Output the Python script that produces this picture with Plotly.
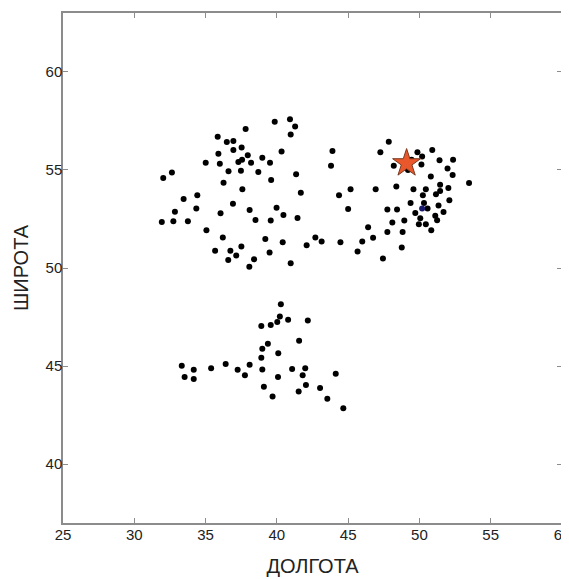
import plotly.graph_objects as go

# Settlement coordinates (longitude, latitude)
lon = [
    40.92, 39.85, 41.28, 37.81, 40.97, 35.85, 36.49, 36.95, 37.53, 36.95,
    40.33, 35.90, 37.96, 38.98, 37.56, 37.30, 38.19, 39.52, 35.01, 36.00,
    32.64, 32.03, 36.61, 37.48, 38.70, 41.35, 39.60, 36.26, 37.58, 41.68,
    34.42, 33.46, 36.92, 34.35, 39.98, 38.09, 32.85, 36.05, 40.46, 41.45,
    38.50, 39.57, 32.74, 33.76, 31.93, 35.06, 36.21, 39.19, 42.70, 43.14,
    40.41, 42.09, 37.51, 35.67, 36.74, 39.49, 37.15, 38.40, 36.59, 40.97,
    38.07,
    47.85, 43.90, 47.26, 50.90, 49.86, 50.19, 49.45, 52.36, 51.41, 43.80,
    48.20, 50.14, 51.97, 50.80, 52.33, 53.48, 51.45, 48.38, 45.17, 46.93,
    49.58, 50.45, 52.03, 51.45, 44.36, 50.24, 51.16, 52.10, 49.38, 50.32,
    51.34, 45.00, 47.75, 48.43, 50.57, 49.71, 51.69, 51.11, 50.06, 51.24,
    48.94, 48.10, 49.96, 50.45, 46.40, 50.83, 47.75, 48.82, 46.75, 45.99,
    44.46, 45.66, 48.76, 47.44, 49.20,
    40.28, 40.21, 40.79, 42.17, 40.03, 39.57, 38.91, 41.56, 39.37, 38.98,
    40.10, 38.91, 33.33, 36.41, 38.09, 35.39, 37.25, 38.98, 41.07, 41.99,
    34.17, 33.53, 34.17, 37.76, 40.08, 41.81, 44.13, 42.04, 39.09, 43.03,
    41.53, 39.70, 43.54, 44.66,
]
lat = [
    57.58, 57.45, 57.21, 57.08, 56.80, 56.69, 56.42, 56.48, 56.14, 56.01,
    55.94, 55.82, 55.75, 55.62, 55.52, 55.41, 55.37, 55.37, 55.37, 55.32,
    54.87, 54.59, 54.93, 54.96, 54.89, 54.78, 54.49, 54.34, 54.01, 53.84,
    53.71, 53.52, 53.28, 53.03, 53.07, 52.96, 52.87, 52.79, 52.70, 52.55,
    52.45, 52.42, 52.38, 52.38, 52.34, 51.93, 51.55, 51.48, 51.55, 51.35,
    51.31, 51.16, 51.10, 50.88, 50.88, 50.79, 50.64, 50.45, 50.41, 50.24,
    50.06,
    56.44, 55.97, 55.90, 56.01, 55.90, 55.69, 55.52, 55.52, 55.49, 55.21,
    55.21, 55.28, 55.07, 54.66, 54.74, 54.33, 54.25, 54.16, 54.01, 54.01,
    54.01, 54.01, 54.08, 53.93, 53.71, 53.71, 53.76, 53.46, 53.31, 53.31,
    53.18, 53.01, 52.98, 52.98, 53.03, 52.81, 52.85, 52.66, 52.53, 52.43,
    52.42, 52.32, 52.23, 52.23, 52.08, 51.93, 51.84, 51.84, 51.54, 51.35,
    51.31, 50.84, 51.05, 50.49, 55.00,
    48.15, 47.53, 47.36, 47.32, 47.25, 47.10, 47.04, 46.29, 46.14, 45.88,
    45.66, 45.43, 45.02, 45.11, 45.07, 44.89, 44.81, 44.83, 44.85, 44.89,
    44.81, 44.44, 44.34, 44.53, 44.44, 44.53, 44.61, 44.04, 43.95, 43.88,
    43.71, 43.45, 43.33, 42.85,
]

# Highlighted points
blue_lon = [50.19]
blue_lat = [53.03]
star_lon = [49.10]
star_lat = [55.34]

x_ticks = [25, 30, 35, 40, 45, 50, 55, 60]
y_ticks = [40, 45, 50, 55, 60]
x_title = "ДОЛГОТА"
y_title = "ШИРОТА"

fig = go.Figure()
fig.add_trace(go.Scatter(
    x=lon, y=lat, mode="markers",
    marker=dict(color="black", size=6),
    showlegend=False, hoverinfo="x+y",
))
fig.add_trace(go.Scatter(
    x=blue_lon, y=blue_lat, mode="markers",
    marker=dict(color="#1a1a6e", size=6),
    showlegend=False,
))
fig.add_trace(go.Scatter(
    x=star_lon, y=star_lat, mode="markers",
    marker=dict(symbol="star", color="#E8582C", size=21,
                line=dict(color="#7a3a20", width=1)),
    showlegend=False,
))

axis_common = dict(
    showgrid=False, zeroline=False, automargin=False,
    showline=True, linecolor="#8c8c8c", linewidth=1.5, mirror="ticks",
    ticks="inside", ticklen=5, tickcolor="#8c8c8c", tickwidth=1,
    ticklabeloverflow="allow",
    tickfont=dict(family="Liberation Sans, Arial, sans-serif", size=15, color="#222222"),
    title_font=dict(family="Liberation Sans, Arial, sans-serif", size=20, color="#222222"),
)

fig.update_xaxes(range=[25, 60], tickvals=x_ticks, title_text=x_title,
                 title_standoff=17, ticklabelstandoff=-3, **axis_common)
fig.update_yaxes(range=[37, 63], tickvals=y_ticks, title_text=y_title,
                 title_standoff=12, ticklabelstandoff=-4, **axis_common)

# the page body adds an 8px margin, so the figure is sized to fit inside it
fig.update_layout(
    width=561, height=571,
    margin=dict(l=55.3, r=6.7, t=4.7, b=55.7),
    plot_bgcolor="white", paper_bgcolor="white",
)

fig.write_html("out.html")
